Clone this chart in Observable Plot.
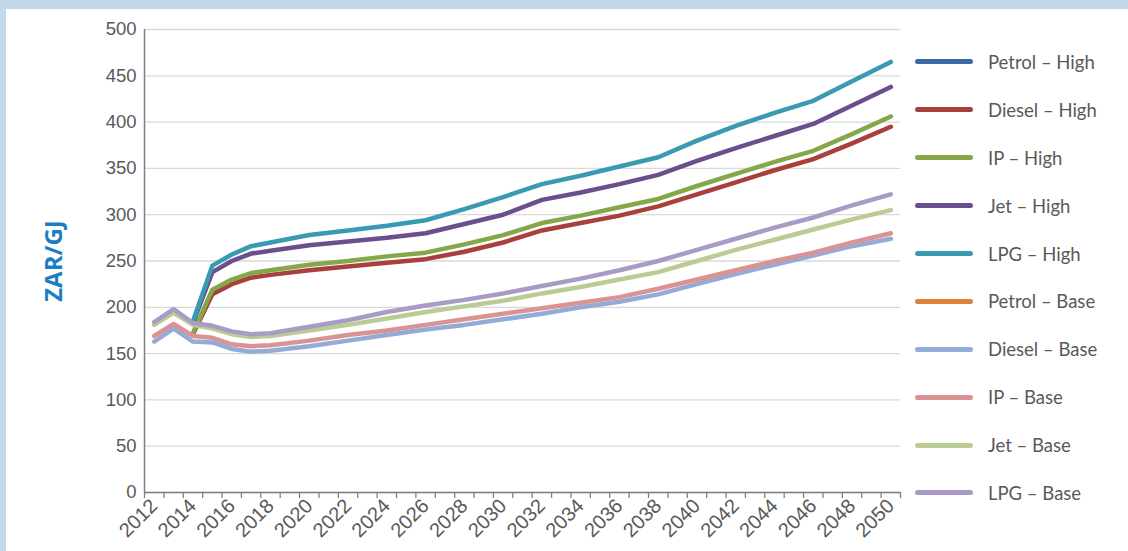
<!DOCTYPE html>
<html>
<head>
<meta charset="utf-8">
<script src="https://cdn.jsdelivr.net/npm/d3@7"></script>
<script src="https://cdn.jsdelivr.net/npm/@observablehq/plot@0.6"></script>
<style>
  html, body { margin: 0; padding: 0; background: #ffffff; }
  #wrap { position: relative; width: 1128px; height: 551px; overflow: hidden; background: #ffffff; }
  #topband { position: absolute; left: 0; top: 0; width: 1128px; height: 9px; background: #C2D9EC; }
  #leftband { position: absolute; left: 0; top: 0; width: 6px; height: 551px; background: #C2D9EC; }
  #chart { position: absolute; left: 0; top: 0; }
  #ytitle { position: absolute; left: 52px; top: 261px; transform: translate(-50%, -50%) rotate(-90deg);
            font-family: "Open Sans", "DejaVu Sans", sans-serif; font-weight: 700; font-size: 24px; color: #1C7EC2; white-space: nowrap; }
  #legend { position: absolute; left: 915px; top: 38px; font-family: Lato, "Open Sans", sans-serif; font-size: 18.5px; color: #595959; }
  .item { display: flex; align-items: center; height: 47.9px; }
  .swatch { width: 58px; height: 5px; border-radius: 3px; margin-right: 15px; }
</style>
</head>
<body>
<div id="wrap">
  <div id="chart"></div>
  <div id="topband"></div>
  <div id="leftband"></div>
  <div id="ytitle">ZAR/GJ</div>
  <div id="legend"></div>
</div>
<script>
// ---- data ----
const seriesNames = ["Petrol – High", "Diesel – High", "IP – High", "Jet – High", "LPG – High",
                     "Petrol – Base", "Diesel – Base", "IP – Base", "Jet – Base", "LPG – Base"];
const seriesColors = ["#386AA6", "#A9403C", "#84A848", "#6A4E8D", "#3A9AB2",
                      "#E0823A", "#93ABD6", "#D99392", "#BACC94", "#A99BC6"];

const baseYears = [2012, 2013, 2014, 2015, 2016, 2017, 2018, 2020, 2022, 2024, 2026, 2028, 2030,
                   2032, 2034, 2036, 2038, 2040, 2042, 2044, 2046, 2048, 2050];
const highYears = [2014, 2015, 2016, 2017, 2018, 2020, 2022, 2024, 2026, 2028, 2030,
                   2032, 2034, 2036, 2038, 2040, 2042, 2044, 2046, 2048, 2050];

const dieselHigh = [171, 214, 225, 232, 235, 240, 244, 248, 252, 260, 270, 283, 291, 299, 309, 322, 335, 348, 360, 377, 395];
const ipHigh     = [172, 219, 230, 237, 240, 246, 250, 255, 259, 268, 278, 291, 299, 308, 317, 331, 344, 357, 369, 387, 406];
const jetHigh    = [183, 238, 250, 258, 261, 267, 271, 275, 280, 290, 300, 316, 324, 333, 343, 358, 372, 385, 398, 418, 438];
const lpgHigh    = [185, 245, 257, 266, 270, 278, 283, 288, 294, 306, 319, 333, 342, 352, 362, 380, 396, 410, 423, 444, 465];

const dieselBase = [163, 177, 163, 162, 155, 152, 153, 158, 164, 170, 176, 181, 187, 193, 200, 206, 214, 225, 236, 246, 256, 266, 274];
const ipBase     = [169, 182, 169, 167, 160, 158, 159, 164, 170, 175, 181, 187, 193, 199, 205, 211, 220, 230, 240, 250, 259, 270, 280];
const jetBase    = [181, 194, 181, 177, 171, 168, 169, 175, 181, 188, 195, 201, 207, 215, 222, 230, 238, 250, 262, 273, 284, 295, 305];
const lpgBase    = [184, 198, 183, 180, 174, 171, 172, 179, 186, 195, 202, 208, 215, 223, 231, 240, 250, 262, 274, 286, 297, 310, 322];

const yTicks = [0, 50, 100, 150, 200, 250, 300, 350, 400, 450, 500];
const xLabelYears = [2012, 2014, 2016, 2018, 2020, 2022, 2024, 2026, 2028, 2030, 2032, 2034, 2036, 2038,
                     2040, 2042, 2044, 2046, 2048, 2050];
const firstYear = 2012, lastYear = 2050;

// ---- build table ----
const seriesData = [
  ["Diesel – High", highYears, dieselHigh],
  ["IP – High", highYears, ipHigh],
  ["Jet – High", highYears, jetHigh],
  ["LPG – High", highYears, lpgHigh],
  ["Diesel – Base", baseYears, dieselBase],
  ["IP – Base", baseYears, ipBase],
  ["Jet – Base", baseYears, jetBase],
  ["LPG – Base", baseYears, lpgBase]
];
const rows = [];
for (const [name, yrs, vals] of seriesData) {
  yrs.forEach((yr, i) => rows.push({series: name, year: yr, value: vals[i]}));
}
// category boundaries (Excel-style category axis)
const boundaries = d3.range(firstYear - 0.5, lastYear + 1, 1);

const chart = Plot.plot({
  width: 1128,
  height: 551,
  marginLeft: 144,
  marginRight: 228,
  marginTop: 29,
  marginBottom: 59,
  style: {fontFamily: '"Liberation Sans Narrow", "Arial Narrow", "Liberation Sans", sans-serif', fontSize: "17px", color: "#595959", background: "transparent"},
  x: {domain: [firstYear - 0.5, lastYear + 0.5]},
  y: {domain: [0, 500]},
  color: {domain: seriesNames, range: seriesColors},
  marks: [
    Plot.gridY(yTicks, {stroke: "#D9D9D9", strokeOpacity: 1, strokeWidth: 1.3}),
    Plot.axisY(yTicks, {tickSize: 0, tickPadding: 8, fontSize: 18.5, label: null}),
    Plot.axisX(boundaries, {tickSize: 6, tickFormat: () => "", stroke: "#7F7F7F", strokeWidth: 1.3, label: null}),
    Plot.axisX(xLabelYears, {tickSize: 0, tickPadding: 10, tickRotate: -45, tickFormat: d => String(d), fontSize: 20, label: null}),
    Plot.ruleY([0], {stroke: "#7F7F7F", strokeWidth: 1.5}),
    Plot.ruleX([firstYear - 0.5], {stroke: "#7F7F7F", strokeWidth: 1.5}),
    Plot.line(rows, {x: "year", y: "value", z: "series", stroke: "series", strokeWidth: 4.5,
                     strokeLinecap: "round", strokeLinejoin: "round"})
  ]
});
document.getElementById("chart").appendChild(chart);

// ---- legend ----
const legend = document.getElementById("legend");
seriesNames.forEach((name, i) => {
  const item = document.createElement("div");
  item.className = "item";
  const sw = document.createElement("div");
  sw.className = "swatch";
  sw.style.background = seriesColors[i];
  const label = document.createElement("span");
  label.textContent = name;
  item.appendChild(sw);
  item.appendChild(label);
  legend.appendChild(item);
});
</script>
</body>
</html>
